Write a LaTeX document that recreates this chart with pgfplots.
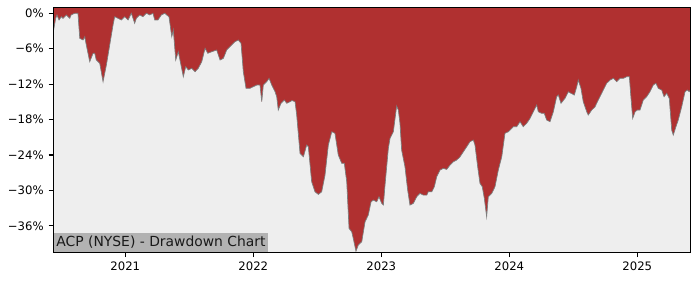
\documentclass[border=0pt]{standalone}
\usepackage{fontspec}
\setmainfont{DejaVu Sans}
\usepackage{pgfplots}
\usepackage{pgfplotstable}
\pgfplotsset{compat=1.18}
\usepgfplotslibrary{fillbetween}
\definecolor{ddred}{RGB}{176,48,48}
\definecolor{bgray}{RGB}{238,238,238}
\definecolor{lblgray}{RGB}{178,178,178}
\definecolor{edgegray}{RGB}{125,125,125}
\pgfplotstableread{
x y
2020.4375 -3.12
2020.456 -0.85
2020.466 -0.29
2020.482 -1.14
2020.500 -0.58
2020.513 -0.85
2020.539 -0.29
2020.566 -0.85
2020.576 -0.29
2020.605 0
2020.630 0
2020.644 -4.24
2020.670 -4.53
2020.683 -3.97
2020.695 -5.37
2020.722 -8.20
2020.748 -6.78
2020.761 -6.78
2020.773 -7.92
2020.800 -8.47
2020.826 -11.59
2020.852 -8.76
2020.878 -5.37
2020.904 -1.98
2020.917 -0.58
2020.943 -0.85
2020.969 -1.14
2020.995 -0.58
2021.021 -1.14
2021.047 0
2021.073 -1.69
2021.086 -0.85
2021.113 -0.29
2021.138 -0.58
2021.164 0
2021.191 -0.29
2021.216 0
2021.230 -1.14
2021.255 -1.14
2021.281 -0.29
2021.308 0
2021.323 -0.29
2021.341 -0.58
2021.363 -3.97
2021.375 -2.83
2021.394 -7.92
2021.414 -6.51
2021.427 -7.92
2021.453 -10.75
2021.472 -9.05
2021.492 -9.61
2021.519 -9.32
2021.545 -9.90
2021.570 -9.32
2021.597 -8.20
2021.623 -5.93
2021.644 -6.78
2021.675 -6.51
2021.714 -6.22
2021.740 -7.92
2021.766 -7.63
2021.792 -6.22
2021.818 -5.66
2021.857 -4.81
2021.883 -4.53
2021.904 -5.08
2021.922 -9.90
2021.943 -12.71
2021.974 -12.71
2022.000 -12.44
2022.027 -12.15
2022.052 -12.15
2022.066 -14.98
2022.078 -12.15
2022.105 -11.59
2022.123 -11.02
2022.144 -12.15
2022.170 -13.29
2022.183 -14.14
2022.195 -16.39
2022.216 -15.25
2022.242 -14.69
2022.261 -15.25
2022.287 -14.98
2022.302 -14.78
2022.326 -14.98
2022.339 -17.24
2022.365 -23.73
2022.391 -24.31
2022.417 -22.32
2022.430 -22.61
2022.456 -28.54
2022.482 -30.24
2022.508 -30.68
2022.534 -30.24
2022.560 -27.41
2022.586 -22.32
2022.613 -20.07
2022.638 -20.34
2022.664 -24.02
2022.691 -25.42
2022.711 -25.42
2022.730 -28.54
2022.748 -36.44
2022.769 -37.02
2022.781 -38.14
2022.802 -40.30
2022.820 -39.27
2022.847 -38.71
2022.873 -35.32
2022.898 -34.19
2022.920 -31.93
2022.938 -31.64
2022.964 -31.93
2022.982 -31.08
2023.003 -32.20
2023.016 -32.49
2023.029 -29.10
2023.055 -22.88
2023.068 -21.19
2023.094 -20.07
2023.120 -15.71
2023.133 -16.39
2023.146 -18.64
2023.159 -23.17
2023.185 -26.00
2023.206 -29.95
2023.224 -32.49
2023.250 -32.20
2023.277 -31.08
2023.302 -30.51
2023.328 -30.80
2023.355 -30.80
2023.367 -30.24
2023.394 -30.24
2023.414 -29.39
2023.433 -27.69
2023.459 -26.56
2023.484 -26.27
2023.511 -26.44
2023.537 -25.71
2023.563 -25.15
2023.589 -24.86
2023.615 -24.31
2023.641 -23.46
2023.667 -22.61
2023.693 -21.76
2023.719 -21.47
2023.732 -22.32
2023.753 -26.00
2023.771 -28.81
2023.789 -29.39
2023.805 -31.36
2023.823 -34.47
2023.836 -31.08
2023.863 -30.51
2023.888 -29.39
2023.914 -26.56
2023.941 -24.31
2023.966 -20.34
2023.992 -20.07
2024.019 -19.49
2024.031 -19.22
2024.058 -19.22
2024.084 -18.37
2024.109 -19.22
2024.136 -18.64
2024.162 -17.80
2024.188 -16.68
2024.214 -15.54
2024.227 -16.68
2024.253 -16.95
2024.273 -16.95
2024.292 -18.08
2024.318 -18.37
2024.344 -16.68
2024.370 -14.14
2024.383 -13.85
2024.404 -15.25
2024.435 -14.41
2024.461 -13.29
2024.482 -13.56
2024.508 -13.85
2024.527 -12.44
2024.539 -11.31
2024.560 -12.71
2024.578 -14.98
2024.605 -16.68
2024.617 -17.24
2024.644 -16.39
2024.670 -15.83
2024.695 -14.69
2024.722 -13.56
2024.734 -13.00
2024.761 -11.86
2024.787 -11.31
2024.813 -11.02
2024.839 -11.59
2024.865 -11.02
2024.891 -11.02
2024.917 -10.75
2024.938 -10.75
2024.948 -13.56
2024.964 -17.80
2024.983 -16.68
2025.000 -16.39
2025.021 -16.39
2025.047 -14.69
2025.073 -14.14
2025.099 -13.29
2025.125 -12.15
2025.146 -11.86
2025.164 -12.71
2025.191 -13.00
2025.209 -14.14
2025.230 -13.56
2025.250 -14.41
2025.269 -19.78
2025.281 -20.63
2025.302 -19.22
2025.320 -18.08
2025.347 -15.83
2025.373 -13.29
2025.391 -13.00
2025.406 -13.29
2025.414 -13.00
}\ddtable
\begin{document}
\begin{tikzpicture}
\begin{axis}[
  scale only axis,
  width=458.6pt, height=176.4pt,
  xmin=2020.4375, xmax=2025.414,
  ymin=-40.5, ymax=1,
  axis background/.style={fill=bgray},
  axis line style={black, line width=0.8pt},
  axis on top,
  tick align=outside,
  major tick length=3.5pt,
  tick style={black, line width=0.8pt},
  xtick pos=bottom, ytick pos=left,
  xtick={2021,2022,2023,2024,2025},
  xticklabels={2021,2022,2023,2024,2025},
  ytick={-36,-30,-24,-18,-12,-6,0},
  yticklabels={−36\%,−30\%,−24\%,−18\%,−12\%,−6\%,0\%},
  tick label style={font=\fontsize{8.4}{10}\selectfont, text=black},
  clip=true,
]
\addplot[name path=dd, draw=none, forget plot] table {\ddtable};
\addplot[name path=top, draw=none, forget plot] coordinates {(2020.4375,1) (2025.414,1)};
\addplot[fill=ddred, draw=none, forget plot] fill between[of=dd and top];
\addplot[edgegray, line width=0.5pt, forget plot] table {\ddtable};
\node[anchor=south west, fill=lblgray, inner sep=2pt, text height=7.6pt, text depth=2.3pt,
  font=\fontsize{10}{12}\selectfont, text=black!90] at (rel axis cs:0,0) {ACP (NYSE) - Drawdown Chart};
\end{axis}
\pgfresetboundingbox
\path (current axis.south west) ++(-38.4pt,-19.9pt) rectangle ++(504pt,201.6pt);
\end{tikzpicture}
\end{document}
